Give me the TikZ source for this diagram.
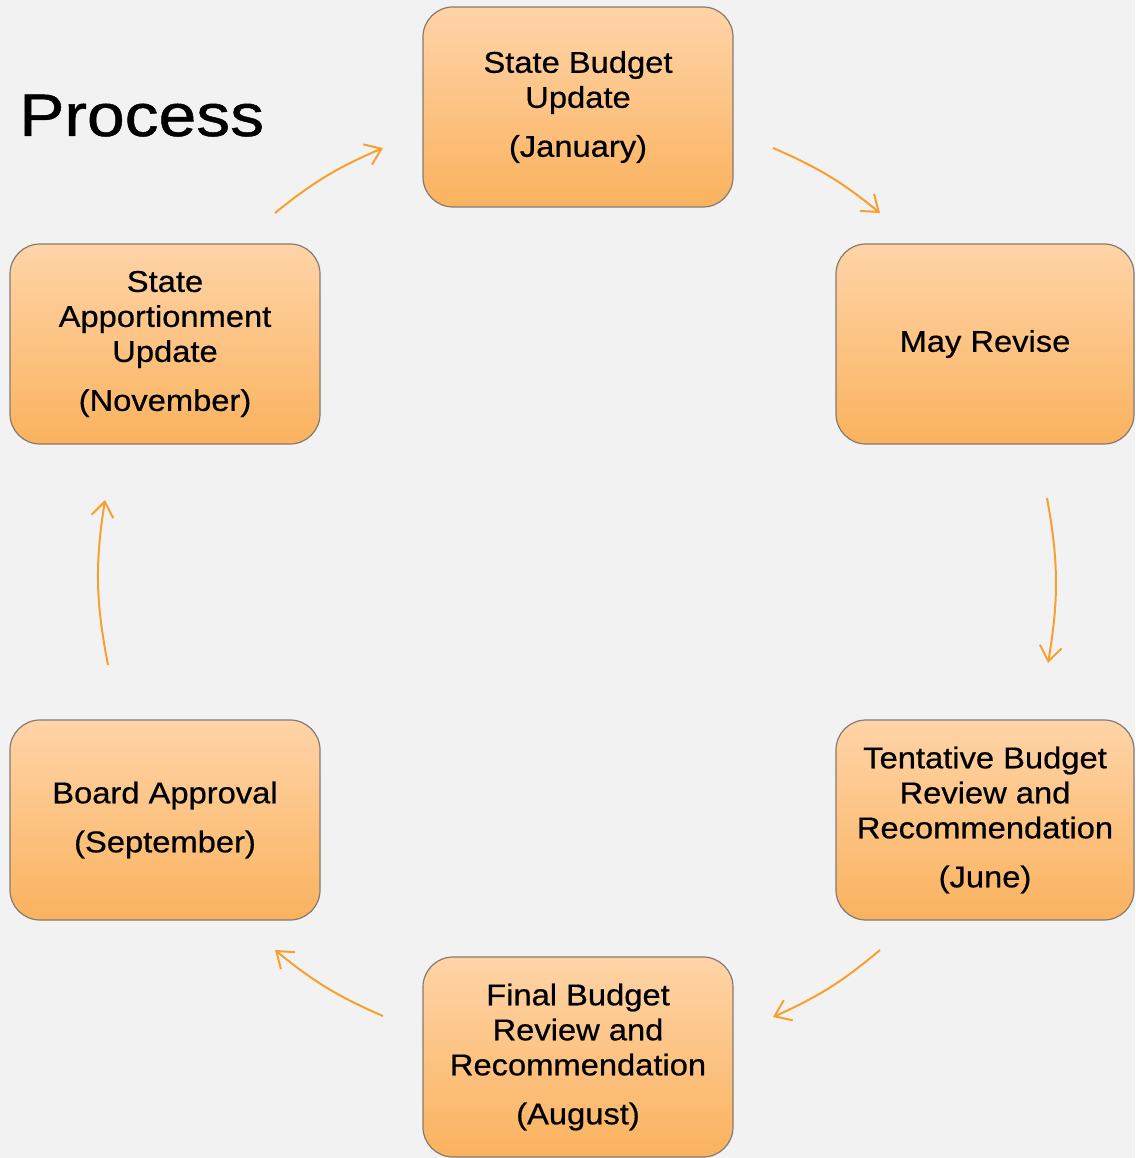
\documentclass[tikz,border=0pt]{standalone}
\usepackage{fontspec}
\setmainfont{Liberation Sans}[FakeStretch=1.09, FakeBold=0.6]
\newfontfamily\titlefont{Liberation Sans}[FakeStretch=1.13, FakeBold=0.8]
\usetikzlibrary{arrows.meta}
\definecolor{bg}{HTML}{F2F2F2}
\definecolor{boxtop}{HTML}{FFD4A8}
\definecolor{boxbot}{HTML}{FAB25E}
\definecolor{boxline}{HTML}{857A70}
\definecolor{arr}{HTML}{F7A030}
\begin{document}
\begin{tikzpicture}[x=1pt,y=-1pt,
  stage/.style={draw=boxline, line width=1.2pt, rounded corners=30pt,
    top color=boxtop, bottom color=boxbot, minimum width=310pt,
    minimum height=200pt, inner sep=0pt, align=center,
    font=\fontsize{30}{35}\selectfont, text=black},
  flow/.style={draw=arr, line width=2pt,
    -{Straight Barb[length=15pt,width=22pt]}}]
  \useasboundingbox (0,0) rectangle (1135,1158);
  \fill[bg] (0,0) rectangle (1135,1158);

  \node[anchor=base west, inner sep=0pt,
        font=\titlefont\fontsize{60}{72}\selectfont] (title) at (19,136) {Process};

  \node[stage] (jan) at (578,107) {State Budget\\Update\\[14pt](January)};
  \node[stage, minimum width=298pt] (may) at (985,344) {May Revise};
  \node[stage, minimum width=298pt] (jun) at (985,820)
    {Tentative Budget\\Review and\\Recommendation\\[14pt](June)};
  \node[stage] (aug) at (578,1057)
    {Final Budget\\Review and\\Recommendation\\[14pt](August)};
  \node[stage] (sep) at (165,820) {Board Approval\\[14pt](September)};
  \node[stage] (nov) at (165,344)
    {State\\Apportionment\\Update\\[14pt](November)};

  \coordinate (a1s) at (275,213);  \coordinate (a1e) at (383,148);
  \coordinate (a2s) at (773,148);  \coordinate (a2e) at (880,213);
  \coordinate (a3s) at (1047,498); \coordinate (a3e) at (1048,663);
  \coordinate (a4s) at (880,950);  \coordinate (a4e) at (773,1017);
  \coordinate (a5s) at (383,1016); \coordinate (a5e) at (275,950);
  \coordinate (a6s) at (108,665);  \coordinate (a6e) at (105,500);

  \draw[flow] (a1s) to[bend left=8] (a1e);
  \draw[flow] (a2s) to[bend left=8] (a2e);
  \draw[flow] (a3s) to[bend left=10] (a3e);
  \draw[flow] (a4s) to[bend left=8] (a4e);
  \draw[flow] (a5s) to[bend left=8] (a5e);
  \draw[flow] (a6s) to[bend left=10] (a6e);
\end{tikzpicture}
\end{document}
